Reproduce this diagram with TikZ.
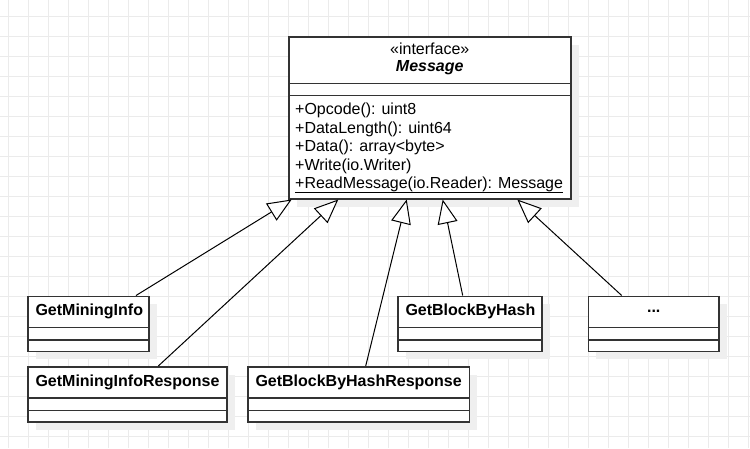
\documentclass[tikz,border=0pt]{standalone}
\usepackage{fontspec}
\setmainfont{Liberation Sans}
\usetikzlibrary{arrows.meta,calc,shadows}
\definecolor{gridc}{HTML}{EBEBEB}
\definecolor{shadowc}{HTML}{EFEFEF}
\definecolor{edgec}{HTML}{333333}
\newcommand\umlcls[5]{%
  \node[umlbox, minimum width=#4pt, minimum height=55pt] (#1) at (#2,#3) {};
  \draw[sepline] ($(#1.north west)+(0,32)$) -- ($(#1.north east)+(0,32)$);
  \draw[sepline] ($(#1.north west)+(0,44.5)$) -- ($(#1.north east)+(0,44.5)$);
  \node[cname] (#1-t) at ($(#1.north west)+(8,16)$) {#5};
}
\begin{document}
\begin{tikzpicture}[x=1pt,y=-1pt,
  font=\fontsize{16}{18.5}\selectfont,
  umlbox/.style={draw=edgec, line width=1.5pt, fill=white, inner sep=0pt, anchor=north west,
     drop shadow={shadow xshift=8pt, shadow yshift=-8pt, fill=shadowc, opacity=1}},
  sepline/.style={draw=edgec, line width=1.3pt},
  inh/.style={draw=black, line width=1pt, -{Triangle[length=24pt, width=20pt, fill=white]}},
  cname/.style={font=\fontsize{16}{18.5}\selectfont\bfseries, anchor=west, inner sep=0pt},
  mtext/.style={anchor=base west, inner sep=0pt}
]
\useasboundingbox (0,0) rectangle (750,448);
\fill[white] (0,0) rectangle (750,448);
\foreach \x in {8,28,...,748} \draw[gridc, line width=1pt] (\x,0) -- (\x,448);
\foreach \y in {16,36,...,436} \draw[gridc, line width=1pt] (0,\y) -- (750,\y);

% interface Message
\node[umlbox, minimum width=282pt, minimum height=162pt] (msg) at (288,36) {};
\draw[sepline] ($(msg.north west)+(0,47.3)$) -- ($(msg.north east)+(0,47.3)$);
\draw[sepline] ($(msg.north west)+(0,59.7)$) -- ($(msg.north east)+(0,59.7)$);
\node[inner sep=0pt] (stereo) at ($(msg.north)+(0,13)$) {«interface»};
\node[inner sep=0pt, font=\fontsize{16}{18.5}\selectfont\bfseries\itshape] (msgname) at ($(msg.north)+(0,31.5)$) {Message};
\node[mtext] (m1) at (295,114.5) {+Opcode(): uint8};
\node[mtext] (m2) at (295,133) {+DataLength(): uint64};
\node[mtext] (m3) at (295,151.5) {+Data(): array<byte>};
\node[mtext] (m4) at (295,170) {+Write(io.Writer)};
\node[mtext] (m5) at (295,188.5) {+ReadMessage(io.Reader): Message};
\draw[line width=1pt] ($(m5.base west)+(0,4)$) -- ($(m5.base east)+(0,4)$);

% subclasses
\umlcls{gmi}{27.3}{295.5}{121}{GetMiningInfo}
\umlcls{gmir}{27.3}{366}{198.7}{GetMiningInfoResponse}
\umlcls{gbbhr}{247.3}{366}{221.4}{GetBlockByHashResponse}
\umlcls{gbbh}{397.3}{295.5}{143.7}{GetBlockByHash}
\node[umlbox, minimum width=130.6pt, minimum height=55pt] (etc) at (587.7,295.5) {};
\draw[sepline] ($(etc.north west)+(0,32)$) -- ($(etc.north east)+(0,32)$);
\draw[sepline] ($(etc.north west)+(0,44.5)$) -- ($(etc.north east)+(0,44.5)$);
\node[inner sep=0pt, font=\fontsize{16}{18.5}\selectfont\bfseries] (etc-t) at ($(etc.north)+(0,16)$) {...};

% generalizations
\draw[inh] ($(gmi.north west)+(108.7,0)$) -- ($(msg.south west)+(3.7,0)$);
\draw[inh] ($(gmir.north west)+(131,0)$) -- ($(msg.south west)+(50.3,0)$);
\draw[inh] ($(gbbhr.north west)+(118.4,0)$) -- ($(msg.south west)+(118.7,0)$);
\draw[inh] ($(gbbh.north west)+(65.4,0)$) -- ($(msg.south west)+(154.7,0)$);
\draw[inh] ($(etc.north west)+(34,0)$) -- ($(msg.south west)+(229.3,0)$);
\end{tikzpicture}
\end{document}
